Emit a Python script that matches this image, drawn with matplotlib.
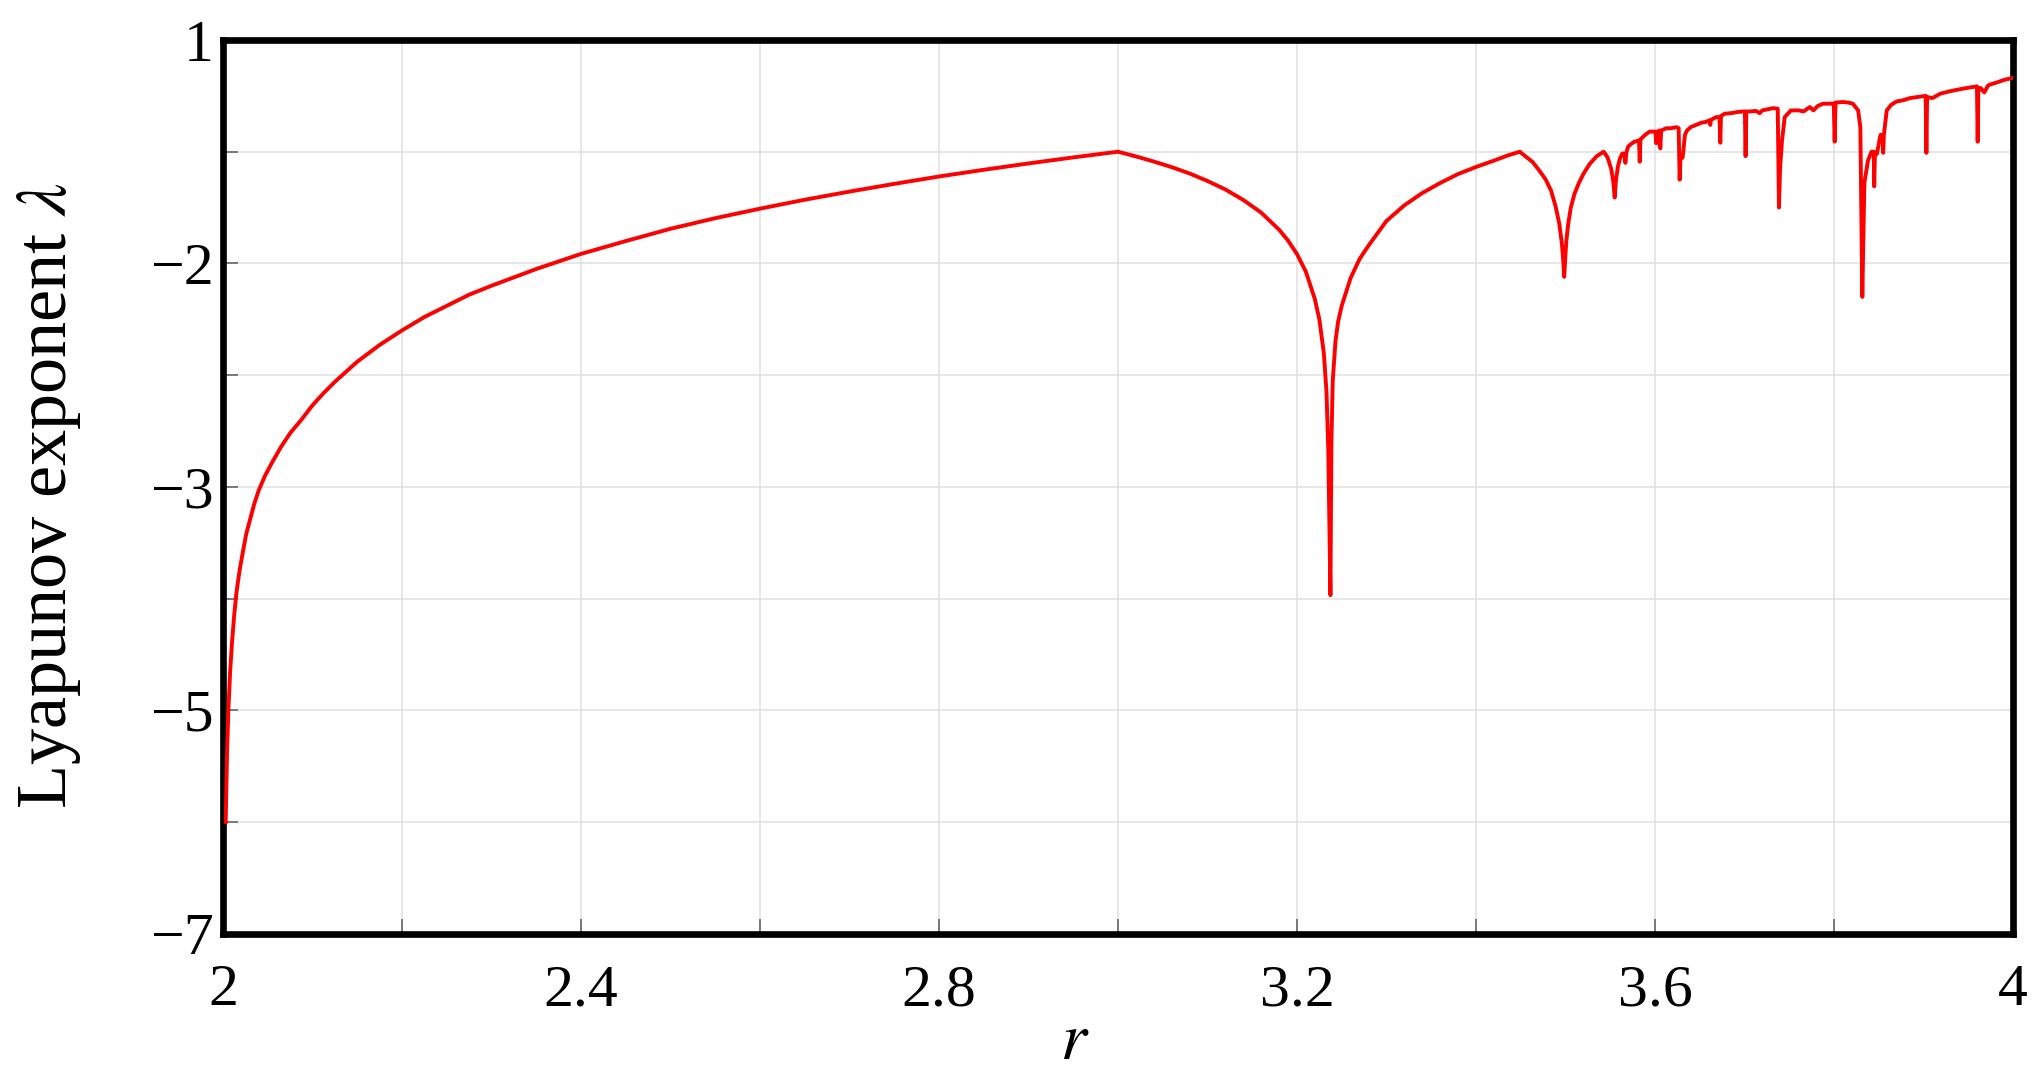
import numpy as np
import matplotlib
matplotlib.use('Agg')
import matplotlib.pyplot as plt

plt.rcParams['font.family'] = ['Liberation Serif', 'DejaVu Serif']
plt.rcParams['mathtext.fontset'] = 'stix'

# fixed point branch, 2 < r < 3
r_fixed = [2.003, 2.0045, 2.006, 2.008, 2.01, 2.0125, 2.015, 2.0185, 2.0225, 2.026,
           2.03, 2.035, 2.04, 2.047, 2.055, 2.065, 2.075, 2.0875, 2.1, 2.1125, 2.125,
           2.1375, 2.15, 2.175, 2.2, 2.225, 2.25, 2.275, 2.3, 2.35, 2.4, 2.45, 2.5,
           2.55, 2.6, 2.65, 2.7, 2.75, 2.8, 2.85, 2.9, 2.95, 3.0]
lam_fixed = [-6.0, -5.4, -5.0, -4.65, -4.4, -4.15, -3.95, -3.75, -3.57, -3.42,
             -3.3, -3.15, -3.03, -2.9, -2.78, -2.64, -2.52, -2.4, -2.27, -2.16, -2.06,
             -1.97, -1.88, -1.73, -1.6, -1.48, -1.38, -1.28, -1.2, -1.05, -0.915, -0.8, -0.69,
             -0.595, -0.51, -0.43, -0.357, -0.288, -0.222, -0.162, -0.105, -0.051, 0.0]

# period 2 branch
r_p2 = [3.02, 3.04, 3.06, 3.08, 3.10, 3.12, 3.14, 3.16, 3.18, 3.19, 3.20, 3.21, 3.22,
        3.225, 3.23, 3.233, 3.235, 3.2365, 3.2374, 3.2385, 3.24, 3.243, 3.246, 3.25,
        3.26, 3.27, 3.28, 3.29, 3.30, 3.32, 3.34, 3.36, 3.38, 3.40, 3.42, 3.435, 3.449]
lam_p2 = [-0.042, -0.088, -0.138, -0.195, -0.262, -0.338, -0.432, -0.545, -0.698, -0.795,
          -0.916, -1.075, -1.32, -1.5, -1.8, -2.15, -2.67, -3.5, -3.97, -2.6, -2.05, -1.7,
          -1.52, -1.38, -1.13, -0.96, -0.84, -0.73, -0.62, -0.48, -0.37, -0.28, -0.2,
          -0.137, -0.08, -0.035, 0.0]

# period 4, 8, ... up to the onset of chaos
r_p4 = [3.455, 3.463, 3.47, 3.478, 3.484, 3.489, 3.493, 3.496, 3.4975, 3.4986, 3.4998,
        3.501, 3.503, 3.506, 3.51, 3.515, 3.52, 3.527, 3.535, 3.5427, 3.547, 3.551,
        3.5535, 3.555, 3.5565, 3.5587, 3.561, 3.5636, 3.566, 3.567, 3.568, 3.57,
        3.572, 3.577, 3.5822, 3.583, 3.5838, 3.585, 3.589, 3.594, 3.6005, 3.6015,
        3.6025, 3.605, 3.606, 3.607, 3.6127]
lam_p4 = [-0.04, -0.09, -0.16, -0.25, -0.35, -0.49, -0.64, -0.82, -0.97, -1.12, -0.95,
          -0.8, -0.65, -0.5, -0.38, -0.28, -0.2, -0.11, -0.04, 0.0, -0.05, -0.15,
          -0.27, -0.41, -0.25, -0.13, -0.06, -0.015, -0.03, -0.1, -0.01, 0.045,
          0.06, 0.09, 0.1, -0.09, 0.11, 0.12, 0.15, 0.18, 0.18, 0.075,
          0.18, 0.19, 0.03, 0.19, 0.21]

# chaotic region with periodic windows
r_chaos = [3.618, 3.624, 3.6265, 3.6276, 3.6285, 3.631, 3.6335, 3.6358, 3.64, 3.646,
           3.652, 3.656, 3.661, 3.6618, 3.6626, 3.6686, 3.6722, 3.673, 3.6738, 3.678,
           3.685, 3.692, 3.698, 3.7005, 3.7013, 3.7021, 3.706, 3.713, 3.717, 3.72,
           3.726, 3.732, 3.7372, 3.7386, 3.7398, 3.742, 3.745, 3.752, 3.761, 3.766,
           3.773, 3.777, 3.782, 3.788, 3.7998, 3.8008, 3.8018, 3.81, 3.816, 3.821,
           3.827, 3.8295, 3.8317, 3.834, 3.838, 3.842, 3.8445, 3.845, 3.8458, 3.848,
           3.852, 3.8545, 3.855, 3.8558, 3.859, 3.864, 3.870, 3.877, 3.885, 3.894,
           3.9025, 3.9033, 3.9041, 3.91, 3.919, 3.929, 3.938, 3.948, 3.9598, 3.9606,
           3.9614, 3.964, 3.968, 3.972, 3.974, 3.982, 3.991, 4.0]
lam_chaos = [0.21, 0.22, 0.21, -0.25, -0.07, -0.05, 0.15, 0.19, 0.22, 0.24,
             0.26, 0.265, 0.28, 0.24, 0.285, 0.31, 0.31, 0.08, 0.32, 0.34,
             0.345, 0.355, 0.36, 0.36, -0.04, 0.36, 0.36, 0.365, 0.345, 0.37,
             0.38, 0.39, 0.385, -0.50, -0.15, 0.10, 0.31, 0.37, 0.37, 0.36,
             0.40, 0.37, 0.41, 0.43, 0.43, 0.09, 0.44, 0.445, 0.44, 0.43,
             0.37, 0.22, -1.30, -0.28, -0.08, 0.0, 0.0, -0.31, -0.02, -0.02,
             0.15, 0.15, -0.01, 0.15, 0.37, 0.42, 0.45, 0.46, 0.48, 0.49,
             0.50, -0.01, 0.49, 0.48, 0.52, 0.54, 0.555, 0.57, 0.585, 0.09,
             0.57, 0.57, 0.53, 0.59, 0.60, 0.62, 0.645, 0.66]

x_ticks = [2.0, 2.2, 2.4, 2.6, 2.8, 3.0, 3.2, 3.4, 3.6, 3.8, 4.0]
x_labels = ['2', '', '2.4', '', '2.8', '', '3.2', '', '3.6', '', '4']
y_ticks = [1, 0, -1, -2, -3, -4, -5, -6, -7]
y_labels = ['1', '', '\u22122', '', '\u22123', '', '\u22125', '', '\u22127']

r = np.concatenate([r_fixed, r_p2, r_p4, r_chaos])
lam = np.concatenate([lam_fixed, lam_p2, lam_p4, lam_chaos])

fig = plt.figure(figsize=(20.44, 10.87), dpi=100)
ax = fig.add_axes([0.1091, 0.1411, 0.8757, 0.8221])

ax.plot(r, lam, color='#ff0000', lw=2.8, zorder=3)

ax.set_xlim(2, 4)
ax.set_ylim(-7, 1)
ax.set_xticks(x_ticks)
ax.set_xticklabels(x_labels)
ax.set_yticks(y_ticks)
ax.set_yticklabels(y_labels)
ax.grid(True, color='#e0e0e0', lw=1.1)
ax.set_axisbelow(True)
ax.tick_params(axis='both', direction='in', length=11, width=1.2, color='#666666',
               labelsize=43)
ax.tick_params(axis='x', pad=22)
ax.tick_params(axis='y', pad=7)
for s in ax.spines.values():
    s.set_linewidth(4.8)

ax.set_xlabel('$r$', fontsize=48, va='center')
ax.xaxis.set_label_coords(0.476, -0.122)
ax.set_ylabel('Lyapunov exponent $\\lambda$', fontsize=52, va='center')
ax.yaxis.set_label_coords(-0.097, 0.49)

fig.savefig('out.png', dpi=100)
